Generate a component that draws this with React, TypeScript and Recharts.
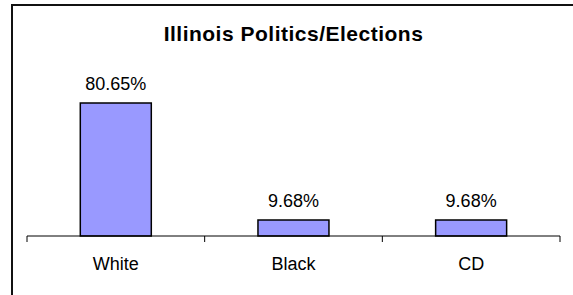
import { BarChart, Bar, XAxis, YAxis, LabelList } from "recharts";

const groups = ["White", "Black", "CD"];
const shares = [80.65, 9.68, 9.68];
const boundaryTicks = [0, 1, 2, 3];

const data = groups.map((name, i) => ({ name, share: shares[i], pos: i + 0.5 }));

const font = "'Liberation Sans', Arial, sans-serif";

export default function App() {
  return (
    <div
      style={{
        position: "fixed",
        left: 0,
        top: 0,
        width: 573,
        height: 295,
        overflow: "hidden",
        background: "#fff",
        fontFamily: font,
      }}
    >
      {/* outer frame, only top/left edges fall inside the picture */}
      <div
        style={{
          position: "absolute",
          left: 11,
          top: 4,
          width: 700,
          height: 400,
          borderLeft: "2px solid #111",
          borderTop: "2px solid #111",
        }}
      />
      <div
        style={{
          position: "absolute",
          left: 0,
          top: 21,
          width: 587,
          textAlign: "center",
          fontWeight: "bold",
          fontSize: 21,
          letterSpacing: 0.5,
          lineHeight: "26px",
          color: "#000",
        }}
      >
        Illinois Politics/Elections
      </div>
      <BarChart
        width={573}
        height={295}
        data={data}
        margin={{ top: 71, right: 13, bottom: 0, left: 27 }}
        barCategoryGap="30%"
        style={{ position: "absolute", left: 0, top: 0 }}
      >
        <YAxis hide domain={[0, 100]} />
        {/* boundary ticks between categories, sits right on the plot edge */}
        <XAxis
          xAxisId="a-edge"
          type="number"
          dataKey="pos"
          domain={[0, 3]}
          ticks={boundaryTicks}
          height={1}
          axisLine={{ stroke: "#000" }}
          tickLine={{ stroke: "#000" }}
          tickSize={6}
          tickFormatter={() => ""}
        />
        <XAxis
          xAxisId="b-cat"
          dataKey="name"
          height={58}
          axisLine={false}
          tickLine={false}
          tickSize={0}
          tickMargin={20}
          tick={{ fill: "#000", fontSize: 18, fontFamily: font }}
        />
        <Bar
          xAxisId="b-cat"
          dataKey="share"
          fill="#9999FF"
          stroke="#000"
          strokeWidth={1.5}
          isAnimationActive={false}
        >
          <LabelList
            dataKey="share"
            position="top"
            offset={13}
            formatter={(v: number) => `${v.toFixed(2)}%`}
            style={{ fill: "#000", fontSize: 18, fontFamily: font }}
          />
        </Bar>
      </BarChart>
    </div>
  );
}
